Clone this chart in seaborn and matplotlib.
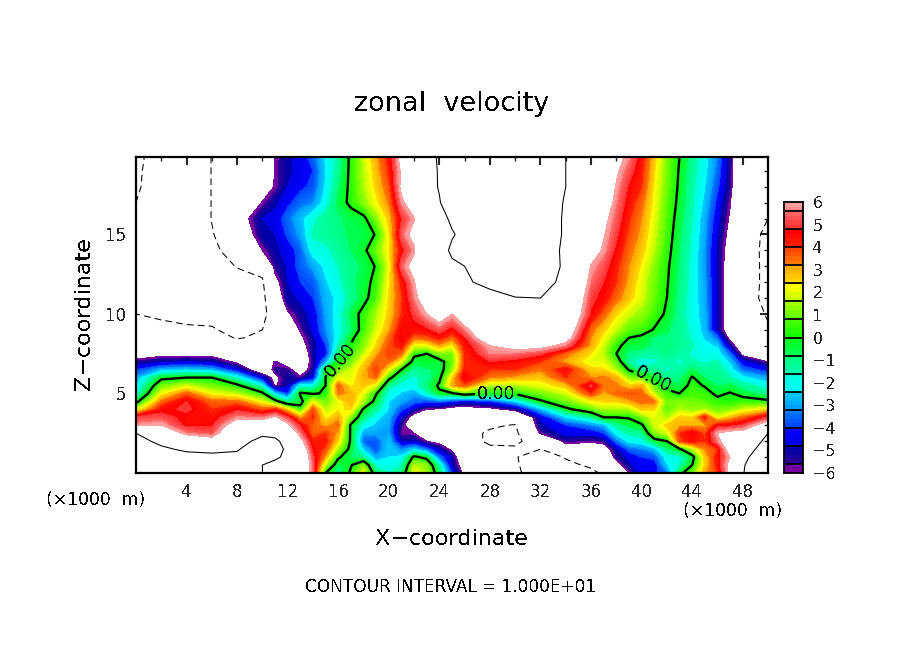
import numpy as np
import matplotlib
matplotlib.use('Agg')
import matplotlib.pyplot as plt
import seaborn as sns

# grid the field was read on (x in km, z in km)
x_km = [0, 2, 4, 6, 8, 10, 11, 12, 13, 14, 15, 16, 17, 18, 19, 20, 21, 22, 23, 24, 25, 26, 28, 30, 32, 34,
        36, 37, 38, 39, 40, 41, 42, 43, 44, 45, 46, 47, 48, 50]
z_km = [0, .5, 1, 1.5, 2, 2.5, 3, 3.5, 4, 4.5, 5, 5.5, 6, 6.5, 7, 7.5, 8, 8.5, 9, 10, 11, 12, 13, 14, 15, 16, 17, 18, 19, 19.9]

# zonal velocity, one list per x position, bottom to top
u00 = [13, 13, 12.5, 12, 11, 10, 5.8, 5, 1.8, -.4, -1.9, -2.4, -3, -4, -5.5, -7, -8, -8.5, -9, -10, -11, -11, -11, -11, -11, -11, -10, -9.5, -9.5, -9.5]
u02 = [13, 13, 12.5, 10.5, 9.3, 7.5, 6, 5.2, 4.5, 3.4, 2.1, 1, -.3, -2.8, -5, -6.5, -8, -9, -9.5, -10.3, -12, -12, -12, -12, -12, -12, -12, -12, -11.5, -11]
u04 = [12, 12, 11, 9.5, 7.5, 5.6, 4.6, 4.5, 5, 4.8, 3.6, 1.8, 0, -2.5, -4.8, -6.5, -8, -8.6, -9.5, -11, -13, -13, -13, -13, -13, -13, -13, -13, -13, -13]
u06 = [12, 11.5, 10.5, 9.5, 6.8, 5.2, 4.7, 4.4, 4, 3.5, 2.1, 1, 0, -2.8, -5, -6.5, -8, -8.8, -9.7, -11, -12, -11.5, -11, -10.5, -10.2, -9.9, -9.9, -9.9, -9.9, -9.9]
u08 = [11.5, 11, 10.5, 9.8, 9, 8, 7, 5.7, 4.7, 3.5, 1.6, .3, -1.8, -4.5, -6.3, -7.5, -8.5, -10.2, -11, -12, -11.5, -10.8, -9.9, -9, -7.8, -7, -8.5, -8.5, -8.5, -8.5]
u10 = [10, 10, 11, 11.5, 10.8, 9.5, 7.2, 5.5, 3.7, 2, .3, -2, -4.7, -7.5, -8, -8.7, -9, -9.5, -10, -10.8, -10.7, -10.3, -9.2, -6, -5, -4.8, -5.9, -7, -8.5, -9]
u11 = [9.3, 9.5, 10.3, 11, 10.5, 9.3, 7.8, 6.2, 4.2, .5, -2.5, -6.2, -6.5, -5.5, -5.8, -8.5, -9.5, -9.7, -9.6, -8.5, -7.5, -6.6, -5.5, -5, -4.8, -4.5, -5, -5.9, -5.8, -5.9]
u12 = [8.5, 8.6, 9.6, 9.5, 9.1, 8, 6.3, 5, 2.5, -1.2, -4, -5, -5, -5.5, -7, -9, -9.2, -9.2, -8.5, -6.2, -5, -4.8, -4.7, -4.5, -3.8, -3.5, -4.2, -4.8, -5, -5]
u13 = [8, 8, 8, 7.5, 6.5, 5.5, 4.7, 3, .5, -.5, .2, -2, -5.8, -7, -7.5, -8, -6.7, -6.3, -5.8, -5.2, -4.7, -4, -3.6, -3.6, -3, -2.7, -3.5, -4.2, -4.5, -4.4]
u14 = [5.4, 5.3, 5, 4.6, 4.2, 3.5, 3.5, 4.1, 3.8, 2, -.1, -2, -4.5, -5.3, -5.4, -5, -5.2, -5.1, -4.6, -4.5, -4, -3.7, -3, -2, -1.5, -1.8, -3.2, -3.8, -4, -3.6]
u15 = [0, 1.6, 3, 3.8, 4.3, 4, 3, 2.2, 1.6, 1, .1, 0, 0, -.2, -3, -4.3, -4, -3.5, -3.2, -3, -2.8, -2.5, -2.2, -1.8, -1.3, -1.2, -2, -2.3, -2.4, -2.3]
u16 = [-1.2, -.8, .2, 1.5, 2.5, 3, 3.5, 3, 2.3, 2, 3.4, 3.6, 2, 1, 0, -.8, -1.5, -2, -2, -2, -2.2, -1.8, -1.6, -1.3, -1, -.9, -.6, -.9, -1.2, -1.4]
u17 = [.2, -.1, -.8, -.4, -.2, -.2, -.2, 1.2, 2.5, 3, 3, 2.3, 2, 1.8, 1, .5, .1, -.3, -.9, -.6, -1.2, -1, -1, -.8, -.7, -.6, .3, .3, .3, .3]
u18 = [2.2, 1.2, -1.2, -2.6, -3.6, -3, -2, -1, -.2, 1.5, 2, 2.7, 3, 2.8, 2.4, 1.7, 1.2, .9, .5, .4, -.4, -.5, -.7, -.3, -.6, -.3, 1.2, 1.5, 1.6, 1.7]
u19 = [-.8, -1.8, -3, -3.8, -3.7, -3, -2.6, -2.2, -1.3, -.5, .1, 1.8, 3.5, 4, 3.5, 3, 2.5, 2.2, 1.8, 1.5, .7, .4, .1, 1, .1, 1.2, 2.2, 2.6, 2.8, 3]
u20 = [-1.6, -2, -2.4, -2.4, -2.6, -3, -3, -2.8, -2.5, -2.4, -2, -1.2, .4, 2.1, 3.5, 4, 3.8, 3.5, 3, 2.6, 2.5, 2.3, 2, 2.3, 2.3, 2.7, 3.3, 3.7, 4.1, 4.3]
u21 = [-1, -1.6, -2.2, -3.3, -5, -5.8, -5.5, -4.8, -3.8, -3, -2.5, -2, -1.2, 0, 2, 3.5, 4.4, 4.8, 4.6, 4, 3.9, 4.2, 5.3, 4.5, 5.3, 4.8, 5.7, 6.3, 6.2, 6.6]
u22 = [2.2, 1.6, .3, -2.5, -4.8, -6, -7.5, -6.8, -5, -3.5, -3, -2, -1.8, -1.2, -.5, .3, 2, 3.5, 4.5, 5, 5.6, 5.9, 6.6, 5.8, 6.5, 5.9, 7, 8, 8.5, 9]
u23 = [1.5, 1.2, -.4, -3.5, -6, -7.3, -8.2, -7.8, -6, -3.8, -1.8, -.9, -1.2, -.9, -.3, 0, 2, 3.7, 4.6, 6, 7, 7.8, 8.5, 8.5, 8.8, 8.5, 9.2, 9.4, 9.5, 9.7]
u24 = [-.8, -1.5, -3.5, -5, -6.5, -8, -9, -8.5, -6.2, -3.5, -.2, .2, -.3, -.6, -.5, 1.2, 3, 4.3, 5.2, 7, 8.5, 9, 9.3, 9.5, 9.8, 9.6, 9.9, 10.1, 10.1, 10.1]
u25 = [-4, -5, -5, -6.3, -7.5, -9, -9.2, -8.5, -6.8, -4, -.2, 3, 2.5, 1.2, .8, 1, 2.2, 3.5, 4.5, 6, 9, 9.5, 9.8, 10.2, 9.9, 10.2, 11, 11.5, 11.5, 11.5]
u26 = [-6.5, -6.8, -8, -9, -9.5, -9.5, -9, -8, -6.8, -4.5, .8, 3.7, 4.8, 4.2, 4, 4, 4.3, 4.7, 5.5, 7.5, 9, 9.8, 10, 11, 10.3, 11, 13, 13, 13, 13]
u28 = [-9, -9, -9.5, -9.8, -10.2, -10.2, -9.8, -9, -6.5, -4, 0, 1.5, 3.3, 4, 4.8, 5.6, 6, 7.5, 8, 9, 9.5, 10.4, 12, 13, 13, 13, 13, 13, 13, 13]
u30 = [-9.3, -9.7, -9.9, -9.8, -10.3, -10.6, -10.1, -9, -5.5, -2.5, .2, 1.5, 3, 4, 4.5, 5.5, 6.5, 7.5, 8, 9, 9.9, 11.5, 13, 13, 13, 13, 13, 13, 13, 13]
u32 = [-12, -11.5, -10.8, -10, -9.2, -5.8, -5, -4.7, -2.8, -.2, 1, 2, 2.7, 3.3, 4, 5, 6.5, 7.5, 8.3, 9.2, 10, 11.5, 12.5, 11.5, 11.5, 11.5, 11.5, 11, 12, 12]
u34 = [-10.5, -10.3, -9.9, -7, -5.5, -4.5, -4, -2.5, -.3, 1, 1.8, 2.8, 4, 4.5, 3, 3.5, 5.5, 6.8, 7.5, 8, 8.5, 9, 9.3, 9.5, 9.7, 9.7, 9.8, 10, 10, 10]
u36 = [-10.3, -9.8, -8.5, -7.2, -5.8, -4.5, -3.3, -1.3, .8, 2.2, 4, 5, 3.2, 2.6, 2, 2.4, 3, 3.2, 3.5, 4.7, 5, 5.5, 5.9, 6.8, 7.2, 7.5, 8, 8.5, 9, 9.5]
u37 = [-9.8, -9, -8, -7, -5.5, -4, -2.8, 0, 1.5, 2.5, 3, 3.4, 3.3, 2.5, 2, 1.6, 1.8, 2.2, 2.6, 3.6, 4.5, 4.8, 5.2, 5.8, 6.1, 6.4, 7, 7.5, 8, 8.5]
u38 = [-8, -6.8, -5.5, -5, -3.5, -2.2, -1.3, 0, 1.5, 2.5, 3.5, 3.3, 3, 1.5, .8, 0, .3, 1, 1.7, 2.5, 3.5, 4, 4.2, 4.6, 5, 5.3, 5.6, 5.9, 6.2, 6.5]
u39 = [-6, -5, -4.6, -3.6, -2.2, -1.4, -.6, .1, 1.5, 3, 3.8, 2.6, 1.2, -.1, -1.4, -1, -.5, 0, .8, 1.8, 2.7, 3, 3.2, 3.5, 3.8, 4.1, 4.4, 4.7, 5.2, 5.7]
u40 = [-4.5, -4.2, -4, -3.3, -2, -1.2, -.2, 1, 2.6, 3.5, 3.6, 3, .8, -1.5, -2, -1.2, -.5, -.3, .6, 1.3, 1.9, 2, 2.3, 2.7, 3, 3.2, 3.5, 4, 4.2, 4.4]
u41 = [-4.2, -4.4, -3.8, -2.7, -.5, 1.2, 1.8, 2, 2.5, 3.4, 1.7, .9, -.4, -1.2, -1.7, -1.4, -1, -.9, -.1, .6, .9, 1, 1.2, 1.6, 1.8, 2, 2.2, 2.3, 2.5, 2.7]
u42 = [-3.5, -2.5, -2, -1, 0, 1.8, 2.6, 1.5, .8, 1, .5, -.5, -1, -1.7, -1.5, -1, -.9, -.9, -.7, -.2, 0, .1, .2, .4, .6, .7, .8, 1, 1, 1.1]
u43 = [-.4, -1.6, -1.8, -.2, 3.8, 4, 3, 2.6, 1.6, 1.2, 0, -.7, -1, -1.4, -1.7, -1.4, -1.2, -1.2, -1.2, -1.2, -1.1, -1, -.9, -.8, -.7, -.5, -.3, -.2, -.1, 0]
u44 = [1, 0, -.5, 1.5, 4.5, 4.8, 3, 2.5, 1.3, 1, .6, .4, .1, -.7, -1.5, -1.7, -1.5, -1.7, -1.8, -2, -2, -1.9, -1.9, -1.8, -1.7, -1.6, -1.5, -1.4, -1.3, -1.2]
u45 = [3, 2.6, 2.6, 3.2, 4, 3.8, 3, 4.3, 1.5, .8, .5, -.1, -.8, -1.3, -1.7, -2, -2.2, -2.5, -2.7, -2.8, -2.9, -3, -3.1, -3.1, -3, -2.9, -2.6, -2.4, -2.2, -2.1]
u46 = [4, 4.3, 4.4, 4, 5.5, 6, 4.5, 2, 1, .4, -.3, -.8, -1, -1.2, -1.5, -2, -2.5, -3.5, -5, -5, -5, -5, -5, -5, -4.8, -4.5, -4.2, -3.8, -3.5, -3.3]
u47 = [6.5, 6.5, 6, 7, 7.5, 6.5, 4.6, 2.8, 1.2, .2, .1, -.6, -1.5, -2, -2.6, -3.5, -5.2, -6.5, -7, -7, -7, -7, -7, -6.8, -6.5, -6.2, -5.9, -5.5, -5.4, -5.4]
u48 = [9.9, 9.8, 9.5, 9, 8.5, 6.5, 5, 3.5, 1.8, .5, -.4, -1.2, -2.2, -3.5, -4.5, -6.5, -7.3, -7.8, -8, -8.7, -8.3, -8, -8, -8.5, -8.8, -9, -9, -8.6, -8.2, -8]
u50 = [12, 12, 11.5, 11, 10.5, 10, 7, 5, 2.5, .3, -1.3, -2, -3, -4.3, -6, -8, -9.2, -9.5, -9.8, -10.2, -11, -11, -11, -10.8, -10.5, -10, -9.5, -9, -9, -9]

# colour table, one (low, high) pair per box of the colour bar, bottom to top
box_colors = [('#7800a0', '#6e00a0'), ('#280096', '#0000aa'), ('#0000e6', '#0000ff'), ('#0046ff', '#0078ff'),
              ('#00a0ff', '#00c8ff'), ('#00ffff', '#00ffdc'), ('#00ffaa', '#00ff82'), ('#00ff50', '#00ff1e'),
              ('#14ff00', '#46ff00'), ('#64ff00', '#a0ff00'), ('#c8ff00', '#ffff00'), ('#ffd700', '#ffaa00'),
              ('#ff7800', '#ff4600'), ('#ff1e00', '#ff0000'), ('#ff3232', '#ff6464'), ('#ff8c8c', '#ffa0a0')]
box_edges = [-5.6, -4.8, -4, -3.2, -2.4, -1.6, -.8, 0, .8, 1.6, 2.4, 3.2, 4, 4.8, 5.6]
bar_labels = ['6', '5', '4', '3', '2', '1', '0', '\u22121', '\u22122', '\u22123', '\u22124', '\u22125', '\u22126']
x_ticks = [4, 8, 12, 16, 20, 24, 28, 32, 36, 40, 44, 48]
z_ticks = [5, 10, 15]

W, H = 904, 654

sns.set_style('white')
plt.rcParams['font.family'] = ['DejaVu Sans']
plt.rcParams['text.antialiased'] = False


def px_text(fig, px, py, s, **kw):
    fig.text(px / W, 1 - py / H, s, ha=kw.pop('ha', 'center'), va='center', color='k', **kw)


def main():
    columns = [u00, u02, u04, u06, u08, u10, u11, u12, u13, u14, u15, u16, u17, u18, u19, u20, u21, u22, u23, u24, u25,
               u26, u28, u30, u32, u34, u36, u37, u38, u39, u40, u41, u42, u43, u44, u45, u46, u47, u48, u50]
    u = np.array(columns).T

    levels = np.arange(-30, 31) / 5
    palette = []
    for i, pair in enumerate(box_colors):
        # the two end boxes are half as tall
        palette += sns.blend_palette(pair, n_colors=2 if i in (0, len(box_colors) - 1) else 4)

    fig = plt.figure(figsize=(W / 100, H / 100), dpi=100)
    ax = fig.add_axes([136 / W, 1 - 473 / H, 632 / W, 316 / H])
    ax.contourf(x_km, z_km, u, levels=levels, colors=palette, antialiased=False)
    ax.contour(x_km, z_km, u, levels=[-10], colors='k', linewidths=.75, linestyles=[(0, (6.5, 4))])
    ax.contour(x_km, z_km, u, levels=[10], colors='k', linewidths=.75, linestyles='solid')
    zero = ax.contour(x_km, z_km, u, levels=[0], colors='k', linewidths=1.7, linestyles='solid')
    ax.clabel(zero, fmt='%.2f', fontsize=12.5, inline=True, inline_spacing=2,
              manual=[(15.9, 7.3), (28.5, 5.0), (41, 6.0)])

    ax.set_xlim(0, 50)
    ax.set_ylim(0, 19.87)
    ax.set_xticks(x_ticks)
    ax.set_xticks(np.arange(2, 50, 4), minor=True)
    ax.set_yticks(z_ticks)
    ax.set_yticks([i for i in range(1, 20) if i not in z_ticks], minor=True)
    ax.tick_params(which='major', direction='in', top=True, right=True, length=6, width=1.5,
                   labelsize=12, pad=7)
    ax.tick_params(which='minor', direction='in', top=True, right=True, length=3, width=1)
    for s in ax.spines.values():
        s.set_linewidth(1.6)
        s.set_visible(True)
        s.set_color('k')

    # colour bar
    cax = fig.add_axes([784 / W, 1 - 473 / H, 19 / W, 271 / H])
    bar_values = ((levels[:-1] + levels[1:]) / 2)[::-1].reshape(-1, 1)
    sns.heatmap(bar_values, ax=cax, cmap=palette, vmin=-6, vmax=6, cbar=False,
                xticklabels=False, yticklabels=False)
    for v in box_edges:
        cax.axhline((6 - v) / .2, color='k', lw=1.3)
    for s in cax.spines.values():
        s.set_visible(True)
        s.set_linewidth(1.3)
        s.set_color('k')
    cax.yaxis.tick_right()
    cax.set_yticks(np.arange(13) * 5)
    cax.set_yticklabels(bar_labels, fontsize=11.5, rotation=0)
    cax.tick_params(axis='y', length=0, pad=7, left=False, right=False)

    px_text(fig, 452, 104, 'zonal  velocity', fontsize=19.5)
    px_text(fig, 452, 539, 'X\u2212coordinate', fontsize=16)
    px_text(fig, 84, 314, 'Z\u2212coordinate', fontsize=16, rotation=90)
    px_text(fig, 96, 500, '(\u00d71000  m)', fontsize=12.3)
    px_text(fig, 733, 511, '(\u00d71000  m)', fontsize=12.3)
    px_text(fig, 451, 587, 'CONTOUR INTERVAL = 1.000E+01', fontsize=12.2)

    plt.savefig('out.png', dpi=100)


if __name__ == '__main__':
    main()
